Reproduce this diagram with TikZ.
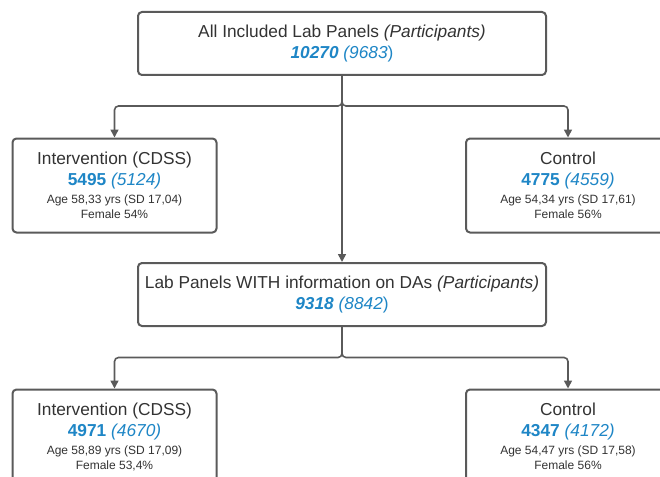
\documentclass[tikz,border=0pt]{standalone}
\usepackage{fontspec}
\setmainfont{Liberation Sans}
\usetikzlibrary{arrows.meta}
\definecolor{txt}{HTML}{333333}
\definecolor{numblue}{HTML}{1E86C6}
\definecolor{edge}{HTML}{5A5A5A}
\newcommand{\bigf}{\fontsize{17.3}{21}\selectfont}
\newcommand{\smallf}{\fontsize{12}{14}\selectfont}
\begin{document}
\begin{tikzpicture}[x=1pt,y=-1pt,
  box/.style={draw=edge,line width=2pt,rounded corners=4pt,fill=white,
    align=center,text=txt,inner sep=0pt,font=\bigf},
  wide/.style={box,minimum width=408pt,minimum height=63pt},
  side/.style={box,minimum width=204pt,minimum height=94pt},
  conn/.style={draw=edge,line width=1.6pt,rounded corners=4pt},
  arr/.style={conn,-{Triangle[length=8pt,width=8pt]}}]
\useasboundingbox (0,0) rectangle (660,476);

\node[wide] (top) at (342,43.5) {All Included Lab Panels \textit{(Participants)}\\[0pt]
  {\color{numblue}\textbf{\textit{10270}} \textit{(9683})}};

\node[side] (ci) at (114.5,185.5) {Intervention (CDSS)\\
  {\color{numblue}\textbf{5495} \textit{(5124)}}\\[-3pt]
  {\smallf Age 58,33 yrs (SD 17,04)}\\[-6pt]
  {\smallf Female 54\%}};

\node[side] (cc) at (568,185.5) {Control\\
  {\color{numblue}\textbf{4775} \textit{(4559)}}\\[-3pt]
  {\smallf Age 54,34 yrs (SD 17,61)}\\[-6pt]
  {\smallf Female 56\%}};

\node[wide] (mid) at (342,294.5) {Lab Panels WITH information on DAs \textit{(Participants)}\\
  {\color{numblue}\textbf{\textit{9318}} \textit{(8842})}};

\node[side] (bi) at (114.5,436.5) {Intervention (CDSS)\\
  {\color{numblue}\textbf{4971} \textit{(4670)}}\\[-3pt]
  {\smallf Age 58,89 yrs (SD 17,09)}\\[-6pt]
  {\smallf Female 53,4\%}};

\node[side] (bc) at (568,436.5) {Control\\
  {\color{numblue}\textbf{4347} \textit{(4172)}}\\[-3pt]
  {\smallf Age 54,47 yrs (SD 17,58)}\\[-6pt]
  {\smallf Female 56\%}};

\coordinate (j1) at (342,106);
\coordinate (j2) at (342,357.5);

\draw[arr] (top.south) |- (ci.north |- j1) -- (ci.north);
\draw[arr] (top.south) |- (cc.north |- j1) -- (cc.north);
\draw[arr] (top.south) -- (mid.north);
\draw[arr] (mid.south) |- (bi.north |- j2) -- (bi.north);
\draw[arr] (mid.south) |- (bc.north |- j2) -- (bc.north);
\end{tikzpicture}
\end{document}
